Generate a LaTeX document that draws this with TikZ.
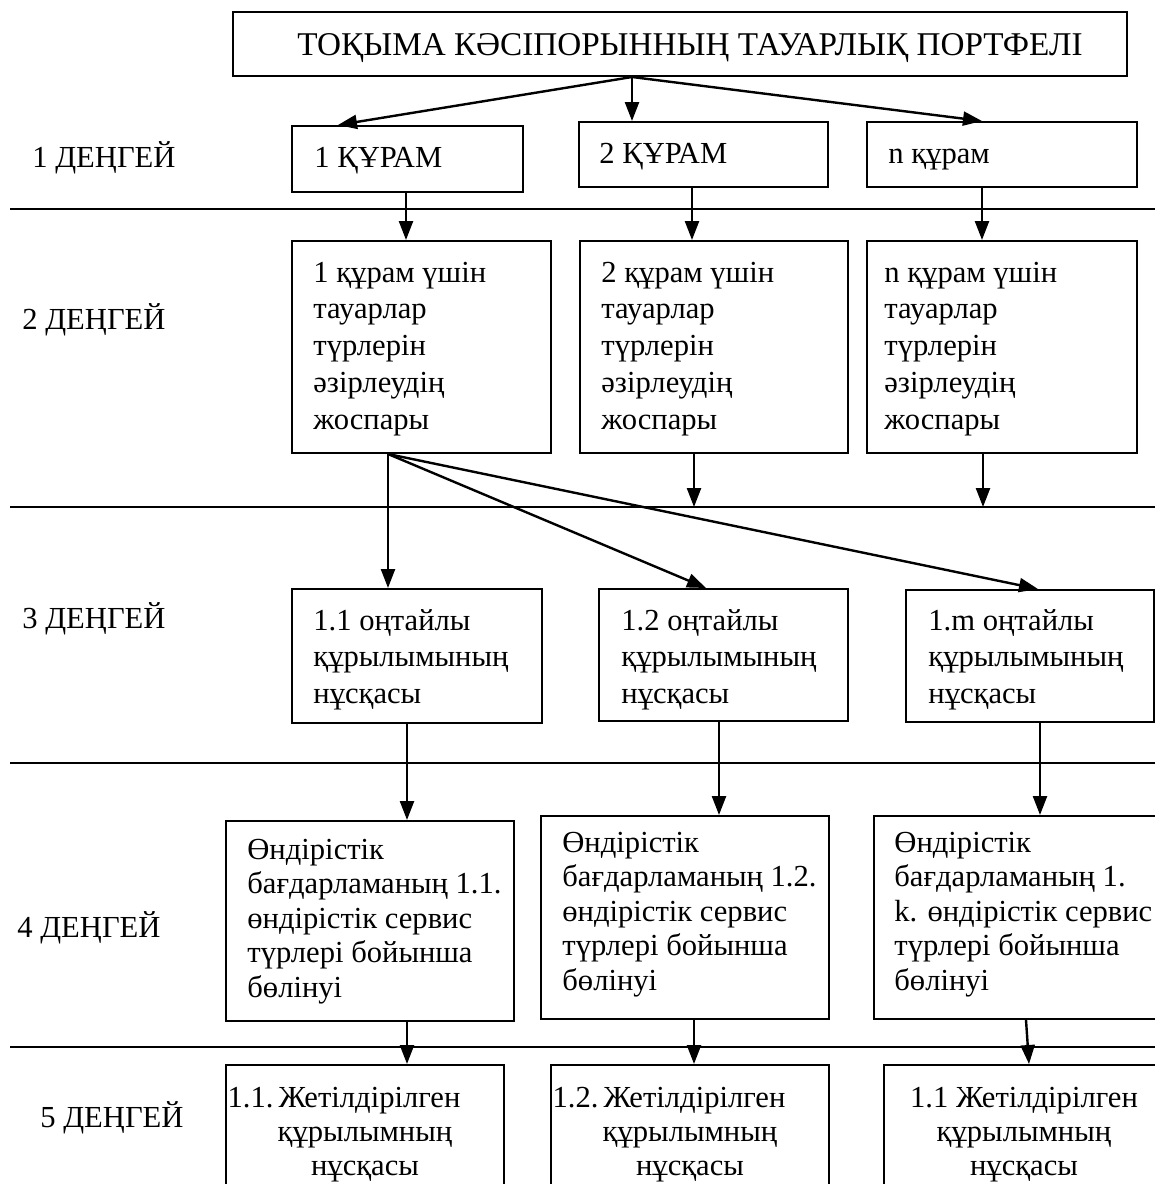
\documentclass[tikz,border=0pt]{standalone}
\usepackage{fontspec}
\setmainfont{Liberation Serif}
\usetikzlibrary{fit,arrows.meta}
\begin{document}
\begin{tikzpicture}[x=0.5pt,y=-0.5pt,
  box/.style={draw,line width=1pt,inner sep=0pt},
  lbl/.style={inner sep=0pt,anchor=base west,font=\fontsize{15.3}{18.3}\selectfont},
  txt/.style={inner sep=0pt,align=left,anchor=base west},
  ctr/.style={inner sep=0pt,align=center,anchor=base,font=\fontsize{15.3}{16.8}\selectfont},
  sepline/.style={line width=1.3pt},
  arr/.style={line width=1.2pt,-{Triangle[length=9.5pt,width=7pt]}}]
\useasboundingbox (0,0) rectangle (1155,1184);
\fill[white] (0,0) rectangle (1155,1184);
\clip (0,0) rectangle (1155,1184);

% ---------- separators
\coordinate (R) at (1155,0);
\coordinate (s1) at (10,209);
\coordinate (s2) at (10,507);
\coordinate (s3) at (10,763);
\coordinate (s4) at (10,1047);
\foreach \s in {s1,s2,s3,s4} \draw[sepline] (\s) -- (\s -| R);

% ---------- level labels
\node[lbl] (L1) at (32,167) {1 ДЕҢГЕЙ};
\node[lbl] (L2) at (22,329) {2 ДЕҢГЕЙ};
\node[lbl] (L3) at (22,628) {3 ДЕҢГЕЙ};
\node[lbl] (L4) at (17,937) {4 ДЕҢГЕЙ};
\node[lbl] (L5) at (40,1127) {5 ДЕҢГЕЙ};

% ---------- boxes
\node[box,fit={(233,12) (1127,76)}] (T) {};
\node[box,fit={(292,126) (523,192)}] (a1) {};
\node[box,fit={(579,122) (828,187)}] (a2) {};
\node[box,fit={(867,122) (1137,187)}] (a3) {};
\node[box,fit={(292,241) (551,453)}] (b1) {};
\node[box,fit={(580,241) (848,453)}] (b2) {};
\node[box,fit={(867,241) (1137,453)}] (b3) {};
\node[box,fit={(292,589) (542,723)}] (c1) {};
\node[box,fit={(599,589) (848,721)}] (c2) {};
\node[box,fit={(906,590) (1154,722)}] (c3) {};
\node[box,fit={(226,821) (514,1021)}] (d1) {};
\node[box,fit={(541,816) (829,1019)}] (d2) {};
\node[box,fit={(874,816) (1170,1019)}] (d3) {};
\node[box,fit={(226,1065) (504,1210)}] (e1) {};
\node[box,fit={(551,1065) (829,1210)}] (e2) {};
\node[box,fit={(884,1065) (1170,1210)}] (e3) {};

% ---------- texts (multi-line nodes are anchored at the baseline of their last line)
\node[lbl,anchor=base,font=\fontsize{16.6}{18.3}\selectfont] (tT) at (690,55) {ТОҚЫМА КӘСІПОРЫННЫҢ ТАУАРЛЫҚ ПОРТФЕЛІ};
\node[lbl] (ta1) at (314,167) {1 ҚҰРАМ};
\node[lbl] (ta2) at (599,163) {2 ҚҰРАМ};
\node[lbl] (ta3) at (888,163) {n құрам};

\tikzset{l2/.style={txt,font=\fontsize{15.3}{18.35}\selectfont}}
\node[l2] (tb1) at (313,429) {1 құрам үшін\\тауарлар\\түрлерін\\әзірлеудің\\жоспары};
\node[l2] (tb2) at (601,429) {2 құрам үшін\\тауарлар\\түрлерін\\әзірлеудің\\жоспары};
\node[l2] (tb3) at (884,429) {n құрам үшін\\тауарлар\\түрлерін\\әзірлеудің\\жоспары};

\tikzset{l3/.style={txt,font=\fontsize{15.3}{18.25}\selectfont}}
\node[l3] (tc1) at (313,703) {1.1 оңтайлы\\құрылымының\\нұсқасы};
\node[l3] (tc2) at (621,703) {1.2 оңтайлы\\құрылымының\\нұсқасы};
\node[l3] (tc3) at (928,703) {1.m оңтайлы\\құрылымының\\нұсқасы};

\tikzset{l4/.style={txt,font=\fontsize{15.3}{17.2}\selectfont}}
\node[l4] (td1) at (247,997) {Өндірістік\\бағдарламаның 1.1.\\өндірістік сервис\\түрлері бойынша\\бөлінуі};
\node[l4] (td2) at (562,990) {Өндірістік\\бағдарламаның 1.2.\\өндірістік сервис\\түрлері бойынша\\бөлінуі};
\node[l4] (td3) at (894,990) {Өндірістік\\бағдарламаның 1.\\k. өндірістік сервис\\түрлері бойынша\\бөлінуі};

\node[ctr] (te1) at (365,1175) {1.1.\,Жетілдірілген\rule{21pt}{0pt}\\құрылымның\\нұсқасы};
\node[ctr] (te2) at (690,1175) {1.2.\,Жетілдірілген\rule{21pt}{0pt}\\құрылымның\\нұсқасы};
\node[ctr] (te3) at (1024,1175) {1.1 Жетілдірілген\\құрылымның\\нұсқасы};

% ---------- connector columns
\coordinate (x0) at (632,0);
\coordinate (x1) at (338,0);
\coordinate (x3) at (982,0);
\coordinate (xa) at (406,0);
\coordinate (xb) at (692,0);
\coordinate (xd) at (388,0);
\coordinate (xe) at (706,0);
\coordinate (xf) at (1038,0);
\coordinate (xg) at (694,0);
\coordinate (xh) at (983,0);
\coordinate (xi) at (407,0);
\coordinate (xj) at (719,0);
\coordinate (xk) at (1040,0);
\coordinate (xm) at (1026,0);
\coordinate (xn) at (1029,0);

% top -> level 1
\coordinate (o1) at (T.south -| x0);
\draw[arr] (o1) -- (a1.north -| x1);
\draw[arr] (o1) -- (a2.north -| x0);
\draw[arr] (o1) -- (a3.north -| x3);
% level 1 -> level 2
\draw[arr] (a1.south -| xa) -- (b1.north -| xa);
\draw[arr] (a2.south -| xb) -- (b2.north -| xb);
\draw[arr] (a3.south -| x3) -- (b3.north -| x3);
% level 2 -> level 3
\coordinate (o2) at (b1.south -| xd);
\draw[arr] (o2) -- (c1.north -| xd);
\draw[arr] (o2) -- (c2.north -| xe);
\draw[arr] (o2) -- (c3.north -| xf);
\draw[arr] (b2.south -| xg) -- (s2 -| xg);
\draw[arr] (b3.south -| xh) -- (s2 -| xh);
% level 3 -> level 4
\draw[arr] (c1.south -| xi) -- (d1.north -| xi);
\draw[arr] (c2.south -| xj) -- (d2.north -| xj);
\draw[arr] (c3.south -| xk) -- (d3.north -| xk);
% level 4 -> level 5
\draw[arr] (d1.south -| xi) -- (e1.north -| xi);
\draw[arr] (d2.south -| xg) -- (e2.north -| xg);
\draw[arr] (d3.south -| xm) -- (e3.north -| xn);
\end{tikzpicture}
\end{document}
